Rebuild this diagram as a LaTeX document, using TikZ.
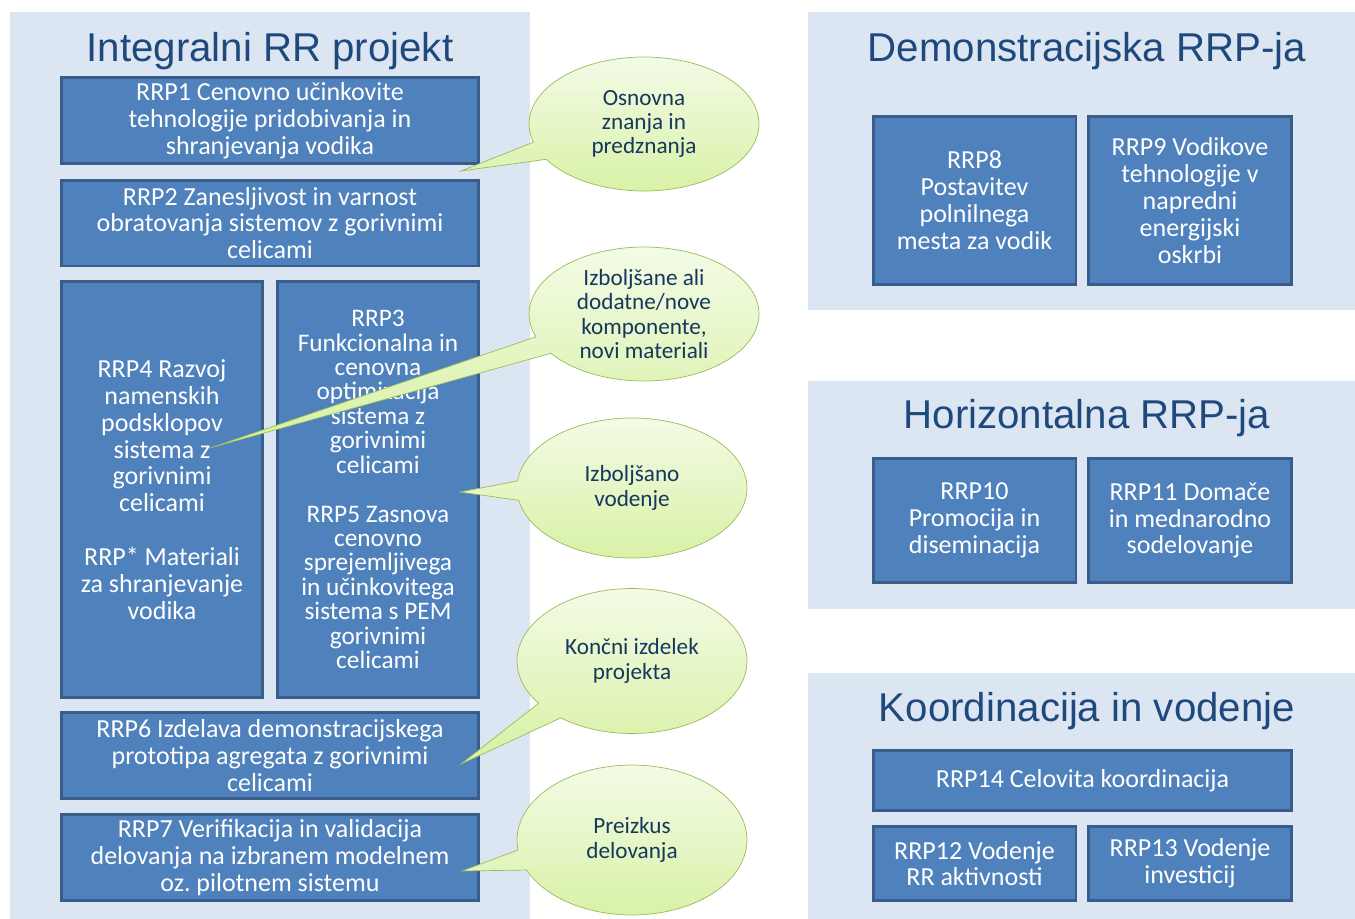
\documentclass[tikz,border=0pt]{standalone}
\usepackage{fontspec}
\setmainfont{Carlito}
\newfontfamily\titlefont{Liberation Sans}
\usepackage{xcolor}
\definecolor{panelbg}{RGB}{220,230,242}
\definecolor{boxfill}{RGB}{79,129,189}
\definecolor{boxborder}{RGB}{56,93,138}
\definecolor{headingblue}{RGB}{31,73,125}
\definecolor{bubbleborder}{RGB}{155,187,89}
\definecolor{bubbletop}{RGB}{243,251,230}
\definecolor{bubblebottom}{RGB}{215,241,163}
\definecolor{bubbletext}{RGB}{23,55,94}
\usepackage{tikz}
\usetikzlibrary{shapes.callouts}
\frenchspacing
\newcommand{\widthwide}{8.36cm}
\newcommand{\widthnarrow}{4.04cm}
\newcommand{\widthright}{4.06cm}
\tikzset{
    panel/.style={fill=panelbg},
    heading/.style={text=headingblue, font=\titlefont\fontsize{22.9}{27}\selectfont},
    common/.style={draw=boxborder, fill=boxfill, line width=1.7pt, text=white, align=center, inner sep=1pt,
        font=\fontsize{14.8}{15.3}\selectfont},
    wide/.style={common, minimum width=\widthwide, minimum height=1.72cm},
    tall/.style={common, minimum width=\widthnarrow, minimum height=8.32cm},
    square/.style={common, minimum width=\widthright},
    bubble/.style={ellipse callout, draw=bubbleborder, top color=bubbletop, bottom color=bubblebottom,
        text=bubbletext, align=center, inner sep=0pt, minimum width=4.6cm, minimum height=2.68cm,
        callout pointer arc=16, font=\fontsize{13.2}{13.9}\selectfont}
}

\begin{document}
\begin{tikzpicture}[x=0.02cm, y=-0.02cm]
    \useasboundingbox (0,0) rectangle (1355,919);
    % background panels
    \path[panel] (10,12) rectangle (530,919);
    \path[panel] (808,12) rectangle (1355,310);
    \path[panel] (808,381) rectangle (1355,609);
    \path[panel] (808,673) rectangle (1355,919);

    \node[heading] (integral) at (270,51) {Integralni RR projekt};
    \node[heading] (demo) at (1087,51) {Demonstracijska RRP-ja};
    \node[heading] (horiz) at (1087,418) {Horizontalna RRP-ja};
    \node[heading] (koord) at (1087,711) {Koordinacija in vodenje};

    % left column
    \node[wide] (rrp1) at (270,120.5) {RRP1 Cenovno učinkovite\\tehnologije pridobivanja in\\shranjevanja vodika};
    \node[wide] (rrp2) at (270,223) {RRP2 Zanesljivost in varnost\\obratovanja sistemov z gorivnimi\\celicami};
    \node[tall] (rrp4) at (162,489.5) {RRP4 Razvoj\\namenskih\\podsklopov\\sistema z\\gorivnimi\\celicami\\[15.3pt]RRP* Materiali\\za shranjevanje\\vodika};
    \node[tall, font=\fontsize{14.4}{13.9}\selectfont] (rrp3) at (378,489.5) {RRP3\\Funkcionalna in\\cenovna\\optimizacija\\sistema z\\gorivnimi\\celicami\\[13.9pt]RRP5 Zasnova\\cenovno\\sprejemljivega\\in učinkovitega\\sistema s PEM\\gorivnimi\\celicami};
    \node[wide] (rrp6) at (270,755.5) {RRP6 Izdelava demonstracijskega\\prototipa agregata z gorivnimi\\celicami};
    \node[wide] (rrp7) at (270,857.5) {RRP7 Verifikacija in validacija\\delovanja na izbranem modelnem\\oz. pilotnem sistemu};

    % right column
    \node[square, minimum height=3.36cm] (rrp8) at (974.5,200.5) {RRP8\\Postavitev\\polnilnega\\mesta za vodik};
    \node[square, minimum height=3.36cm] (rrp9) at (1190,200.5) {RRP9 Vodikove\\tehnologije v\\napredni\\energijski\\oskrbi};
    \node[square, minimum height=2.48cm] (rrp10) at (974.5,520.5) {RRP10\\Promocija in\\diseminacija};
    \node[square, minimum height=2.48cm] (rrp11) at (1190,520.5) {RRP11 Domače\\in mednarodno\\sodelovanje};
    \node[common, minimum width=8.36cm, minimum height=1.2cm] (rrp14) at (1082.5,780.5) {RRP14 Celovita koordinacija};
    \node[square, minimum height=1.48cm] (rrp12) at (974.5,863.5) {RRP12 Vodenje\\RR aktivnosti};
    \node[square, minimum height=1.48cm] (rrp13) at (1190,863.5) {RRP13 Vodenje\\investicij};

    % callouts
    \coordinate (tip1) at (461,171);
    \coordinate (tip2) at (210,448);
    \coordinate (tip3) at (460,492);
    \coordinate (tip4) at (461,764);
    \coordinate (tip5) at (462,871);
    \node[bubble, callout absolute pointer={(tip1)}] (osnova) at (644,124) {Osnovna\\znanja in\\predznanja};
    \node[bubble, callout absolute pointer={(tip2)}] (komponente) at (644,314) {Izboljšane ali\\dodatne/nove\\komponente,\\novi materiali};
    \node[bubble, callout absolute pointer={(tip3)}, minimum height=2.8cm] (vodenje) at (632,488) {Izboljšano\\vodenje};
    \node[bubble, callout absolute pointer={(tip4)}, minimum height=2.9cm] (izdelek) at (632,661) {Končni izdelek\\projekta};
    \node[bubble, callout absolute pointer={(tip5)}, minimum height=3.0cm] (preizkus) at (632,840) {Preizkus\\delovanja};
\end{tikzpicture}
\end{document}
